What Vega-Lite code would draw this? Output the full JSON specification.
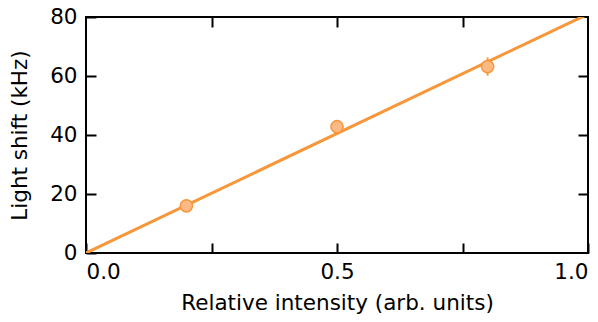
{
  "$schema": "https://vega.github.io/schema/vega-lite/v6.json",
  "width": 502,
  "height": 236,
  "autosize": {"type": "none"},
  "padding": {"left": 86, "top": 17, "right": 10, "bottom": 69},
  "config": {
    "font": "DejaVu Sans",
    "view": {"stroke": "black", "strokeWidth": 2},
    "axis": {
      "domain": false,
      "grid": false,
      "tickColor": "black",
      "tickWidth": 2,
      "tickSize": -10,
      "labelFont": "DejaVu Sans",
      "labelFontSize": 21.5,
      "labelColor": "black",
      "titleFont": "DejaVu Sans",
      "titleFontSize": 21.5,
      "titleFontWeight": "normal",
      "titleColor": "black"
    }
  },
  "datasets": {
    "fit": [{"x": 0, "y": 0}, {"x": 1, "y": 81}],
    "pts": [
      {"x": 0.2, "y": 16, "err": 1.5},
      {"x": 0.5, "y": 42.8, "err": 1.5},
      {"x": 0.8, "y": 63.2, "err": 3.1}
    ]
  },
  "layer": [
    {
      "data": {"name": "fit"},
      "mark": {"type": "line", "color": "#F7963A", "strokeWidth": 3, "clip": true},
      "encoding": {
        "x": {
          "field": "x", "type": "quantitative",
          "scale": {"domain": [0, 1], "nice": false, "zero": false},
          "axis": {
            "orient": "bottom",
            "title": "Relative intensity (arb. units)",
            "values": [0, 0.25, 0.5, 0.75, 1],
            "labelExpr": "datum.value == 0.25 || datum.value == 0.75 ? '' : format(datum.value, '.1f')",
            "labelFlush": true,
            "labelPadding": 18,
            "titlePadding": 10
          }
        },
        "y": {
          "field": "y", "type": "quantitative",
          "scale": {"domain": [0, 80], "nice": false, "zero": false},
          "axis": {
            "orient": "left",
            "title": "Light shift (kHz)",
            "values": [0, 20, 40, 60, 80],
            "labelPadding": 19,
            "titlePadding": 18
          }
        }
      }
    },
    {
      "data": {"name": "pts"},
      "mark": {"type": "errorbar", "color": "#F7963A", "thickness": 2},
      "encoding": {
        "x": {
          "field": "x", "type": "quantitative",
          "axis": {"orient": "top", "title": null, "labels": false, "values": [0.25, 0.5, 0.75]}
        },
        "y": {
          "field": "y", "type": "quantitative",
          "axis": {"orient": "right", "title": null, "labels": false, "values": [20, 40, 60]}
        },
        "yError": {"field": "err"}
      }
    },
    {
      "data": {"name": "pts"},
      "mark": {"type": "point", "shape": "circle", "filled": true, "size": 150, "fill": "#FDB983", "stroke": "#F7963A", "strokeWidth": 1.5, "opacity": 1},
      "encoding": {
        "x": {"field": "x", "type": "quantitative", "axis": null},
        "y": {"field": "y", "type": "quantitative", "axis": null}
      }
    }
  ],
  "resolve": {"axis": {"x": "independent", "y": "independent"}}
}
